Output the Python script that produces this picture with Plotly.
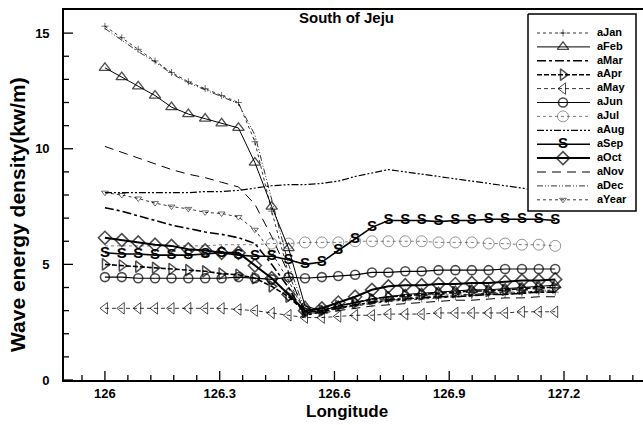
import plotly.graph_objects as go

# Longitude of the sampling points along the section
lon = [126.000, 126.044, 126.087, 126.131, 126.174, 126.218, 126.262, 126.305,
       126.349, 126.392, 126.436, 126.480, 126.523, 126.567, 126.610, 126.654,
       126.698, 126.741, 126.785, 126.828, 126.872, 126.916, 126.959, 127.003,
       127.046, 127.090, 127.134, 127.177]

# Mean wave energy density (kW/m) per month and for the whole year
jan = [15.3, 14.8, 14.3, 13.8, 13.3, 12.9, 12.6, 12.3, 12.0, 10.3, 7.3, 4.6, 2.9, 3.0,
       3.1, 3.2, 3.3, 3.4, 3.45, 3.5, 3.55, 3.6, 3.65, 3.7, 3.7, 3.75, 3.8, 3.8]
feb = [13.5, 13.1, 12.7, 12.3, 11.8, 11.5, 11.3, 11.1, 10.9, 9.4, 7.5, 5.7, 3.2, 3.0,
       3.2, 3.35, 3.5, 3.6, 3.7, 3.75, 3.8, 3.85, 3.9, 3.9, 3.95, 4.0, 4.05, 4.1]
mar = [7.45, 7.3, 7.1, 6.9, 6.7, 6.55, 6.4, 6.3, 6.15, 5.9, 5.0, 4.0, 2.8, 2.95,
       3.1, 3.25, 3.35, 3.45, 3.5, 3.55, 3.6, 3.6, 3.65, 3.7, 3.7, 3.75, 3.8, 3.8]
apr = [5.0, 4.95, 4.9, 4.85, 4.8, 4.75, 4.7, 4.6, 4.55, 4.4, 4.05, 3.6, 2.95, 3.0,
       3.2, 3.35, 3.5, 3.6, 3.65, 3.7, 3.75, 3.8, 3.85, 3.85, 3.9, 3.95, 4.0, 4.0]
may = [3.1, 3.1, 3.1, 3.1, 3.1, 3.1, 3.1, 3.1, 3.05, 3.0, 2.9, 2.8, 2.7, 2.7,
       2.75, 2.8, 2.8, 2.85, 2.85, 2.85, 2.9, 2.9, 2.9, 2.9, 2.9, 2.95, 2.95, 2.95]
jun = [4.45, 4.45, 4.4, 4.4, 4.4, 4.4, 4.4, 4.4, 4.45, 4.4, 4.35, 4.45, 4.4, 4.45,
       4.5, 4.55, 4.65, 4.65, 4.7, 4.7, 4.75, 4.75, 4.75, 4.75, 4.8, 4.8, 4.8, 4.8]
jul = [5.8, 5.8, 5.8, 5.8, 5.8, 5.8, 5.8, 5.85, 5.85, 5.85, 5.9, 5.9, 5.95, 5.95,
       5.95, 6.0, 6.0, 6.0, 6.0, 6.0, 5.95, 5.95, 5.95, 5.9, 5.9, 5.85, 5.85, 5.8]
aug = [8.1, 8.1, 8.1, 8.1, 8.1, 8.1, 8.15, 8.15, 8.2, 8.3, 8.4, 8.45, 8.45, 8.5,
       8.6, 8.8, 8.95, 9.1, 9.0, 8.9, 8.8, 8.7, 8.6, 8.5, 8.4, 8.3, 8.15, 8.05]
sep = [5.5, 5.45, 5.45, 5.4, 5.4, 5.4, 5.45, 5.5, 5.4, 5.35, 5.35, 5.2, 5.0, 5.1,
       5.6, 6.1, 6.6, 6.9, 6.9, 6.9, 6.85, 6.9, 6.9, 6.95, 6.95, 6.95, 6.95, 6.9]
oct_ = [6.15, 6.05, 5.95, 5.85, 5.8, 5.65, 5.6, 5.5, 5.5, 4.95, 4.4, 3.7, 3.0, 3.1,
        3.35, 3.6, 3.9, 4.05, 4.1, 4.1, 4.15, 4.15, 4.2, 4.2, 4.25, 4.3, 4.3, 4.35]
nov = [10.1, 9.85, 9.6, 9.35, 9.1, 8.9, 8.75, 8.55, 8.35, 7.6, 6.2, 4.6, 2.9, 2.9,
       3.0, 3.1, 3.2, 3.25, 3.3, 3.35, 3.4, 3.45, 3.45, 3.5, 3.55, 3.55, 3.6, 3.6]
dec = [15.2, 14.7, 14.2, 13.75, 13.25, 12.85, 12.55, 12.25, 11.95, 10.6, 7.8, 5.0, 3.0, 3.05,
       3.15, 3.25, 3.35, 3.45, 3.5, 3.55, 3.6, 3.65, 3.7, 3.75, 3.75, 3.8, 3.85, 3.85]
year = [8.1, 8.0, 7.85, 7.65, 7.5, 7.4, 7.25, 7.2, 7.05, 6.5, 5.5, 4.3, 2.9, 3.0,
        3.2, 3.35, 3.45, 3.5, 3.55, 3.6, 3.65, 3.7, 3.7, 3.75, 3.8, 3.8, 3.85, 3.9]

names = ["aJan", "aFeb", "aMar", "aApr", "aMay", "aJun", "aJul",
         "aAug", "aSep", "aOct", "aNov", "aDec", "aYear"]
values = [jan, feb, mar, apr, may, jun, jul, aug, sep, oct_, nov, dec, year]

# axis ticks
x_major = [126.0, 126.3, 126.6, 126.9, 127.2]
x_major_text = ["126", "126.3", "126.6", "126.9", "127.2"]
x_minor = [round(125.94 + 0.06 * i, 2) for i in range(25)]
x_minor = [v for v in x_minor if all(abs(v - m) > 1e-6 for m in x_major)]
y_major = [0, 5, 10, 15]
y_minor = [v for v in range(1, 16) if v % 5 != 0]

FONT = "Liberation Sans"
INK = "black"

# line / marker style for each series (None -> plain line, "S" -> letter symbol)
styles = {
    "aJan":  dict(line=dict(dash="dot", width=0.8), marker=dict(symbol="cross-thin-open", size=5, line=dict(width=0.8))),
    "aFeb":  dict(line=dict(width=1.0), marker=dict(symbol="triangle-up-open", size=10, line=dict(width=1.3))),
    "aMar":  dict(line=dict(dash="dashdot", width=1.6), marker=None),
    "aApr":  dict(line=dict(dash="5px,2px", width=1.6), marker=dict(symbol="triangle-right-open", size=10, line=dict(width=1.5))),
    "aMay":  dict(line=dict(dash="4px,3px", width=0.8), marker=dict(symbol="triangle-left-open", size=10, line=dict(width=1.0))),
    "aJun":  dict(line=dict(width=1.2), marker=dict(symbol="circle-open", size=9, line=dict(width=1.6))),
    "aJul":  dict(line=dict(dash="dot", width=0.7), marker=dict(symbol="circle-open", size=11, line=dict(width=0.8))),
    "aAug":  dict(line=dict(dash="7px,2px,2px,2px,2px,2px", width=1.2), marker=None),
    "aSep":  dict(line=dict(width=1.6), marker="S"),
    "aOct":  dict(line=dict(width=2.0), marker=dict(symbol="diamond-open", size=10, line=dict(width=1.6))),
    "aNov":  dict(line=dict(dash="9px,6px", width=1.0), marker=None),
    "aDec":  dict(line=dict(dash="6px,2px,1px,2px,1px,2px", width=0.8), marker=None),
    "aYear": dict(line=dict(dash="dot", width=0.8), marker=dict(symbol="triangle-down-open", size=6, line=dict(width=0.8))),
}
soft = {"aJul": "#444444"}
# July circles are only drawn east of the shelf break
first_marker = {"aJul": 10}

fig = go.Figure()


def add_series(name, xs, ys, xaxis="x", yaxis="y", centre_only=False):
    st = styles[name]
    col = soft.get(name, INK)
    line = dict(color=col, **st["line"])
    mk = st["marker"]
    if mk is None:
        tr = go.Scatter(x=xs, y=ys, mode="lines", line=line)
    elif mk == "S":
        txt = ["S"] * len(xs)
        if centre_only:
            txt = ["", "S", ""]
        tr = go.Scatter(x=xs, y=ys, mode="lines+text", line=line,
                        text=txt, textposition="middle center",
                        textfont=dict(family=FONT, size=15, color=INK, weight="bold"))
    else:
        if centre_only:
            size = [0, mk["size"], 0]
        else:
            k = first_marker.get(name, 0)
            size = [0] * k + [mk["size"]] * (len(xs) - k)
        tr = go.Scatter(x=xs, y=ys, mode="lines+markers", line=line,
                        marker=dict(symbol=mk["symbol"], size=size, color=col,
                                    line=dict(width=mk["line"]["width"], color=col)))
    tr.update(name=name, showlegend=False, xaxis=xaxis, yaxis=yaxis, cliponaxis=False,
              hoverinfo="skip")
    fig.add_trace(tr)


draw_order = ["aJan", "aDec", "aYear", "aNov", "aMar", "aAug", "aJul",
              "aMay", "aJun", "aApr", "aFeb", "aSep", "aOct"]
for nm in draw_order:
    add_series(nm, lon, values[names.index(nm)])

W, H = 643, 425
ml, mr, mt, mb = 64, 0, 10, 45
pw = W - ml - mr
ph = H - mt - mb
x_range = [125.893, 127.4065]
y_range = [0, 16]
px_per_x = pw / (x_range[1] - x_range[0])
px_per_y = ph / (y_range[1] - y_range[0])


def px_x(p):
    return (p - ml) / pw


def px_y(p):
    return (H - mb - p) / ph


# inward tick marks along the bottom and left axes
def tick_segments(major_len, minor_len):
    tx, ty = [], []
    for vals, ln in ((x_major, major_len), (x_minor, minor_len)):
        for v in vals:
            tx += [v, v, None]
            ty += [y_range[0], y_range[0] + ln / px_per_y, None]
    for vals, ln in ((y_major, major_len), (y_minor, minor_len)):
        for v in vals:
            tx += [x_range[0], x_range[0] + ln / px_per_x, None]
            ty += [v, v, None]
    return tx, ty


tx, ty = tick_segments(9, 5)
fig.add_trace(go.Scatter(x=tx, y=ty, mode="lines", line=dict(color=INK, width=1.3),
                         showlegend=False, hoverinfo="skip"))

# ---- legend panel on its own small axes (units: pixels inside the box)
box_w, box_h = 110, 199
fig.add_trace(go.Scatter(x=[1, box_w - 1, box_w - 1, 1, 1], y=[1, 1, box_h - 1, box_h - 1, 1],
                         mode="lines", fill="toself", fillcolor="white",
                         line=dict(color=INK, width=1.5), showlegend=False,
                         xaxis="x2", yaxis="y2", hoverinfo="skip"))
row0, row_step = 20, 13.9
rows = [row0 + i * row_step for i in range(len(names))]
for nm, ry in zip(names, rows):
    add_series(nm, [10, 36, 63], [ry, ry, ry], xaxis="x2", yaxis="y2", centre_only=True)
fig.add_trace(go.Scatter(x=[70] * len(names), y=rows,
                         mode="text", text=names, textposition="middle right",
                         textfont=dict(family=FONT, size=11, color=INK, weight="bold"),
                         showlegend=False, xaxis="x2", yaxis="y2", cliponaxis=False,
                         hoverinfo="skip"))

tick_font = dict(family=FONT, size=13, color=INK, weight="bold")
fig.update_layout(
    width=W, height=H,
    margin=dict(l=ml, r=mr, t=mt, b=mb, pad=0),
    paper_bgcolor="white", plot_bgcolor="white",
    showlegend=False,
    font=dict(family=FONT, color=INK),
    xaxis=dict(range=x_range, tickmode="array", tickvals=x_major, ticktext=x_major_text,
               ticks="", showline=True, linecolor=INK, linewidth=1.8, mirror=True,
               showgrid=False, zeroline=False, ticklabelstandoff=0, tickfont=tick_font),
    yaxis=dict(range=y_range, tickmode="array", tickvals=y_major,
               ticks="", showline=True, linecolor=INK, linewidth=1.6, mirror=False,
               showgrid=False, zeroline=False, ticklabelstandoff=10, tickfont=tick_font),
    xaxis2=dict(domain=[px_x(527), px_x(527 + box_w)], range=[0, box_w], visible=False,
                fixedrange=True, anchor="y2"),
    yaxis2=dict(domain=[px_y(13 + box_h), px_y(13)], range=[box_h, 0], visible=False,
                fixedrange=True, anchor="x2"),
    annotations=[
        dict(text="South of Jeju", x=px_x(346), y=px_y(17), xref="paper", yref="paper",
             showarrow=False, xanchor="center", yanchor="middle",
             font=dict(family=FONT, size=15, color=INK, weight="bold")),
        dict(text="Longitude", x=px_x(347), y=px_y(411), xref="paper", yref="paper",
             showarrow=False, xanchor="center", yanchor="middle",
             font=dict(family=FONT, size=17, color=INK, weight="bold")),
        dict(text="Wave energy density(kw/m)", x=px_x(17), y=px_y(215), xref="paper", yref="paper",
             showarrow=False, xanchor="center", yanchor="middle", textangle=-90,
             font=dict(family=FONT, size=21, color=INK, weight="bold")),
    ],
)

fig.write_html("out.html")
